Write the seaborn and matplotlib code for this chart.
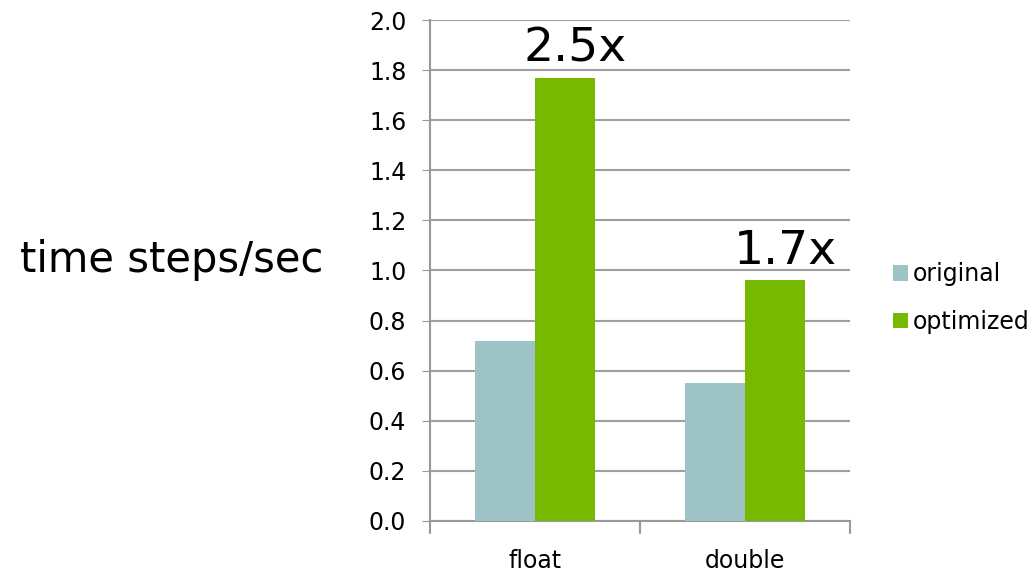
import pandas as pd
import matplotlib.pyplot as plt
import seaborn as sns

# chart values
precisions = ['float', 'double']
original = [0.72, 0.55]
optimized = [1.77, 0.96]
speedups = ['2.5x', '1.7x']
series_names = ['original', 'optimized']
colors = ['#9DC3C6', '#76B900']

df = pd.DataFrame({
    'precision': precisions * 2,
    'version': [series_names[0]] * 2 + [series_names[1]] * 2,
    'rate': original + optimized,
})

sns.set_style('white')
plt.rcParams['font.family'] = ['DejaVu Sans']
plt.rcParams['text.color'] = 'black'
plt.rcParams['xtick.labelcolor'] = 'black'
plt.rcParams['ytick.labelcolor'] = 'black'

fig = plt.figure(figsize=(10.36, 5.73), dpi=100)
ax = fig.add_axes([0.415, 0.091, 0.4055, 0.874])

sns.barplot(data=df, x='precision', y='rate', hue='version',
            palette=colors, width=0.57, saturation=1, linewidth=0,
            ax=ax, zorder=3)

ax.set_ylim(0, 2.0)
ax.set_yticks([i / 5 for i in range(11)])
ax.set_yticklabels([f'{i / 5:.1f}' for i in range(11)], fontsize=17)
ax.set_xlim(-0.5, 1.5)
ax.tick_params(axis='x', length=0, labelsize=17, pad=20)
ax.tick_params(axis='y', length=6, color='#999999', direction='out', pad=11, left=True)
ax.yaxis.grid(True, color='#A0A0A0', linewidth=1.5, zorder=0)
ax.set_axisbelow(True)

# category boundary ticks on the x axis
for xb in [-0.5, 0.5, 1.5]:
    ax.plot([xb, xb], [0, -0.05], color='#999999', lw=1.5, clip_on=False)

for s in ['top', 'right']:
    ax.spines[s].set_visible(False)
ax.spines['left'].set_color('#999999')
ax.spines['left'].set_linewidth(1.5)
ax.spines['bottom'].set_color('#999999')
ax.spines['bottom'].set_linewidth(1.5)

ax.set_xlabel('')
ax.set_ylabel('')
fig.text(0.166, 0.525, 'time steps/sec', fontsize=30, ha='center', va='baseline')

# speedup labels above optimized bars
for i, (v, lab) in enumerate(zip(optimized, speedups)):
    ax.text(i + 0.19, v + 0.065, lab, fontsize=34, ha='center', va='baseline')

handles, labels = ax.get_legend_handles_labels()
ax.get_legend().remove()
fig.legend(handles, labels, loc='center left', bbox_to_anchor=(0.862, 0.48),
           frameon=False, fontsize=17, handlelength=0.65, handleheight=0.65,
           handletextpad=0.2, labelspacing=1.0, borderpad=0, borderaxespad=0)

fig.savefig('out.png', dpi=100)
